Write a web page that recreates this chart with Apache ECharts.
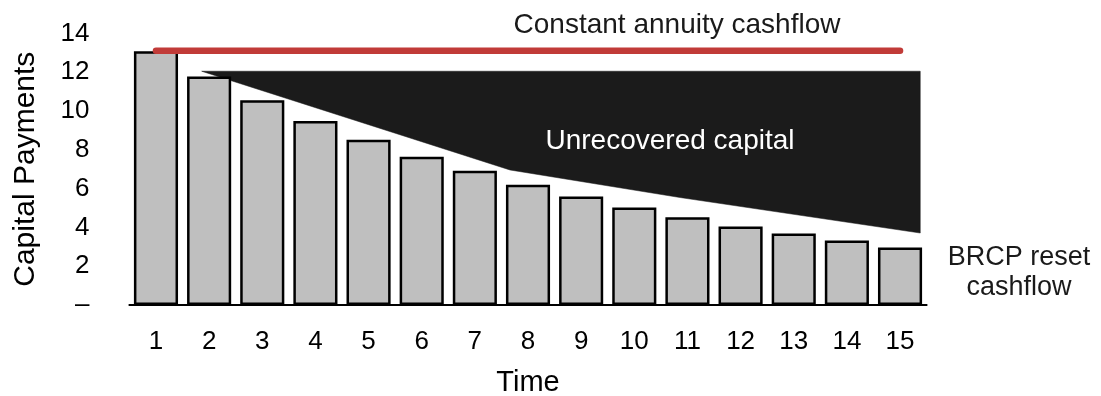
<!DOCTYPE html>
<html>
<head>
<meta charset="utf-8">
<script src="https://cdn.jsdelivr.net/npm/echarts@6/dist/echarts.min.js"></script>
<style>
  html, body { margin: 0; padding: 0; background: #ffffff; }
  #chart { width: 1101px; height: 396px; }
</style>
</head>
<body>
<div id="chart"></div>
<script>
// Time periods on the x axis
const periods = ['1', '2', '3', '4', '5', '6', '7', '8', '9', '10', '11', '12', '13', '14', '15'];

// BRCP reset cashflow (capital payments per period)
const brcpReset = [13.08, 11.78, 10.55, 9.48, 8.52, 7.64, 6.92, 6.2, 5.59, 5.02, 4.52, 4.04, 3.68, 3.32, 2.96];

// Constant annuity cashflow, drawn from period 1 to period 15
const annuityLine = [[1, 13.1], [15, 13.1]];

// Unrecovered capital band: upper edge and lower edge (period, payment)
const unrecoveredTop = [[1.86, 12.05], [15.38, 12.05]];
const unrecoveredBottom = [[1.86, 12.05], [7.66, 6.96], [10.86, 5.54], [15.38, 3.71]];

// Y-axis range
const yMin = 0, yMax = 14, yStep = 2;

// Closed outline of the band: along the top, then back along the bottom
const bandOutline = unrecoveredTop.concat(unrecoveredBottom.slice().reverse());

const FONT = '"Liberation Sans", Arial, sans-serif';

const chart = echarts.init(document.getElementById('chart'), null, { renderer: 'canvas' });

chart.setOption({
  animation: false,
  backgroundColor: '#ffffff',
  grid: {
    left: 129.4, right: 174.4, top: 33.4, bottom: 91,
    containLabel: false,
    outerBoundsMode: 'none'
  },
  xAxis: [
    {
      type: 'category',
      data: periods,
      boundaryGap: true,
      axisLine: { show: true, lineStyle: { color: '#000000', width: 2 } },
      axisTick: { show: false },
      axisLabel: { color: '#000000', fontSize: 26, fontFamily: FONT, margin: 24 },
      name: 'Time',
      nameLocation: 'middle',
      nameGap: 63,
      nameTextStyle: { color: '#000000', fontSize: 29, fontFamily: FONT }
    },
    {
      // numeric twin of the category axis for the band and the annuity line
      type: 'value',
      min: 0.5,
      max: 15.5,
      show: false
    }
  ],
  yAxis: {
    type: 'value',
    min: yMin,
    max: yMax,
    interval: yStep,
    axisLine: { show: false },
    axisTick: { show: false },
    splitLine: { show: false },
    axisLabel: {
      color: '#000000',
      fontSize: 26,
      fontFamily: FONT,
      margin: 40,
      formatter: v => (v === 0 ? '–' : String(v))
    },
    name: 'Capital Payments',
    nameLocation: 'middle',
    nameGap: 89,
    nameTextStyle: { color: '#000000', fontSize: 30, fontFamily: FONT }
  },
  series: [
    {
      name: 'Unrecovered capital',
      type: 'custom',
      xAxisIndex: 1,
      z: 1,
      data: bandOutline,
      renderItem: function (params, api) {
        if (params.dataIndex !== 0) return null;
        const pts = bandOutline.map(p => api.coord(p));
        return {
          type: 'polygon',
          shape: { points: pts },
          style: { fill: '#1b1b1b', stroke: '#1b1b1b', lineWidth: 0.5 }
        };
      }
    },
    {
      name: 'BRCP reset cashflow',
      type: 'bar',
      xAxisIndex: 0,
      z: 3,
      data: brcpReset,
      barCategoryGap: '17%',
      itemStyle: { color: '#bfbfbf', borderColor: '#000000', borderWidth: 2.5 }
    },
    {
      name: 'Constant annuity cashflow',
      type: 'line',
      xAxisIndex: 1,
      z: 4,
      data: annuityLine,
      symbol: 'none',
      lineStyle: { color: '#c13b38', width: 6.5, cap: 'round' }
    }
  ],
  graphic: [
    {
      type: 'text',
      x: 677, y: 25,
      style: {
        text: 'Constant annuity cashflow',
        fill: '#1a1a1a', font: '28px ' + FONT,
        align: 'center', verticalAlign: 'middle'
      }
    },
    {
      type: 'text',
      x: 670, y: 141, z: 10,
      style: {
        text: 'Unrecovered capital',
        fill: '#ffffff', font: '28px ' + FONT,
        align: 'center', verticalAlign: 'middle'
      }
    },
    {
      type: 'text',
      x: 1019, y: 273,
      style: {
        text: 'BRCP reset\ncashflow',
        fill: '#1a1a1a', font: '27px ' + FONT,
        lineHeight: 30,
        align: 'center', verticalAlign: 'middle'
      }
    }
  ]
});
</script>
</body>
</html>
